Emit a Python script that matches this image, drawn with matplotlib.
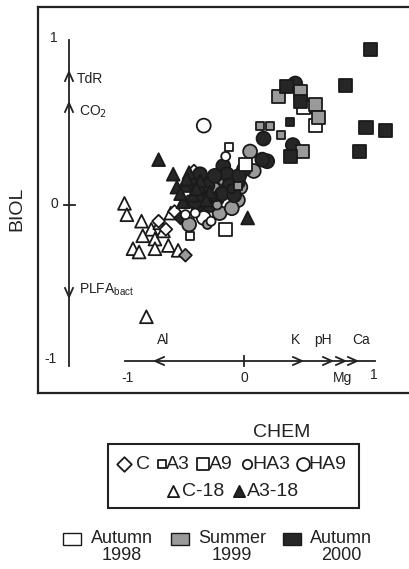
import matplotlib
matplotlib.use("Agg")
import matplotlib.pyplot as plt
from matplotlib.patches import Rectangle

plt.rcParams['font.family'] = ['Liberation Sans', 'DejaVu Sans']

# ---------------- data (biplot scores) ----------------
seasons = ["Autumn\n1998", "Summer\n1999", "Autumn\n2000"]
season_colors = ["#ffffff", "#9a9a9a", "#262626"]

# C (diamonds)
C_x = [-0.41, -0.70, -0.64, -0.48, -0.46, -0.30, -0.38, -0.52, -0.57, -0.24, -0.33]
C_y = [0.21, -0.10, -0.15, -0.31, 0.02, 0.01, -0.02, -0.08, -0.04, 0.06, 0.11]
C_s = [0, 0, 0, 1, 1, 1, 2, 2, 0, 1, 2]

# A3 (small squares)
A3_x = [-0.12, -0.44, 0.38, 0.13, 0.21, 0.30, -0.25, -0.05]
A3_y = [0.36, -0.19, 0.51, 0.49, 0.49, 0.43, 0.05, 0.12]
A3_s = [0, 0, 2, 1, 1, 1, 2, 1]

# A9 (large squares)
A9_x = [0.49, 0.59, 0.01, -0.15, 0.28, 0.46, 0.59, 0.61, 0.48,
        1.04, 0.83, 1.00, 1.16, 0.95, 0.35, 0.46, 0.38]
A9_y = [0.60, 0.49, 0.25, -0.15, 0.67, 0.70, 0.62, 0.54, 0.33,
        0.96, 0.74, 0.48, 0.46, 0.33, 0.73, 0.64, 0.30]
A9_s = [0, 0, 0, 0, 1, 1, 1, 1, 1,
        2, 2, 2, 2, 2, 2, 2, 2]

# HA3 (small circles)
HA3_x = [-0.15, -0.40, -0.30, -0.22, -0.10, -0.35, -0.48, -0.27]
HA3_y = [0.30, -0.05, -0.12, 0.00, 0.10, 0.05, -0.06, -0.10]
HA3_s = [0, 0, 1, 1, 2, 2, 0, 0]

# HA9 (large circles)
HA9_x = [-0.33, -0.33, -0.20, -0.45, 0.05, 0.08, -0.05, -0.10, -0.25, -0.03, -0.16,
         0.42, 0.54, 0.16, 0.40, 0.19, 0.15, -0.17, -0.14, -0.30, -0.38, -0.05, 0.00, -0.22,
         -0.44, -0.36, -0.24, -0.12, -0.04, -0.28, -0.40, -0.18, -0.08]
HA9_y = [0.49, -0.08, -0.05, -0.12, 0.33, 0.21, 0.03, -0.02, 0.10, 0.11, 0.16,
         0.75, 0.61, 0.41, 0.37, 0.27, 0.28, 0.24, 0.19, 0.12, 0.08, 0.14, 0.22, 0.04,
         0.14, 0.19, 0.18, 0.12, 0.18, 0.00, 0.02, 0.07, 0.06]
HA9_s = [0, 0, 1, 1, 1, 1, 1, 1, 1, 1, 1,
         2, 2, 2, 2, 2, 2, 2, 2, 2, 2, 2, 2, 2,
         2, 2, 2, 2, 2, 2, 2, 2, 2]

# C-18 (open triangles)
C18_x = [-0.98, -0.96, -0.84, -0.76, -0.69, -0.83, -0.73, -0.66, -0.91, -0.86,
         -0.73, -0.62, -0.54, -0.80, -0.60]
C18_y = [0.01, -0.06, -0.10, -0.15, -0.11, -0.19, -0.21, -0.16, -0.27, -0.29,
         -0.27, -0.25, -0.28, -0.69, -0.05]

# A3-18 (filled triangles)
A318_x = [-0.70, -0.58, -0.55, 0.03, -0.48, -0.42, -0.36, -0.50, -0.28,
          -0.45, -0.52, -0.39, -0.31, -0.47]
A318_y = [0.28, 0.19, 0.11, -0.08, 0.12, 0.06, 0.15, 0.02, 0.08,
          0.20, 0.07, 0.10, 0.03, 0.16]

# ---------------- layout ----------------
W, H = 409, 569
fig = plt.figure(figsize=(W / 100, H / 100), dpi=100)
L, T, B, R = 38, 7, 393, 416
ax = fig.add_axes([L / W, 1 - B / H, (R - L) / W, (B - T) / H])
X0, SX = 244, 122
Y0, SY = 205, 162


def dx(px):
    return (px - X0) / SX


def dy(py):
    return (Y0 - py) / SY


ax.set_xlim(dx(L), dx(R))
ax.set_ylim(dy(B), dy(T))
ax.set_xticks([])
ax.set_yticks([])
for s in ax.spines.values():
    s.set_linewidth(1.6)
    s.set_color('#222222')

ink = '#222222'
# biplot axes
ax.plot([dx(69), dx(69)], [dy(40), dy(366)], color=ink, lw=1.3)
ax.plot([dx(64), dx(75)], [0, 0], color=ink, lw=1.3)
ax.plot([dx(125), dx(375)], [dy(361), dy(361)], color=ink, lw=1.3)
ax.plot([0, 0], [dy(356), dy(366)], color=ink, lw=1.3)


def chevron(px, py, d):
    if d == 'up':
        xs = [px - 4, px, px + 4]; ys = [py + 9, py, py + 9]
    elif d == 'down':
        xs = [px - 4, px, px + 4]; ys = [py - 9, py, py - 9]
    elif d == 'right':
        xs = [px - 9, px, px - 9]; ys = [py - 4, py, py + 4]
    else:
        xs = [px + 9, px, px + 9]; ys = [py - 4, py, py + 4]
    ax.plot([dx(v) for v in xs], [dy(v) for v in ys], color=ink, lw=1.3)


chevron(69, 72, 'up')
chevron(69, 103, 'up')
chevron(69, 297, 'down')
chevron(155, 361, 'left')
chevron(302, 361, 'right')
chevron(332, 361, 'right')
chevron(345, 361, 'right')
chevron(357, 361, 'right')

tfs = 10
ax.text(dx(77), dy(79), 'TdR', fontsize=tfs, va='center', ha='left', color=ink)
ax.text(dx(79), dy(112), 'CO$_2$', fontsize=tfs, va='center', ha='left', color=ink)
ax.text(dx(79), dy(290), 'PLFA$_{\\mathregular{bact}}$', fontsize=tfs, va='center', ha='left', color=ink)
ax.text(dx(163), dy(340), 'Al', fontsize=tfs, va='center', ha='center', color=ink)
ax.text(dx(295), dy(340), 'K', fontsize=tfs, va='center', ha='center', color=ink)
ax.text(dx(323), dy(340), 'pH', fontsize=tfs, va='center', ha='center', color=ink)
ax.text(dx(361), dy(340), 'Ca', fontsize=tfs, va='center', ha='center', color=ink)
ax.text(dx(343), dy(378), 'Mg', fontsize=tfs, va='center', ha='center', color=ink)
ax.text(dx(128), dy(378), '-1', fontsize=tfs, va='center', ha='center', color=ink)
ax.text(dx(244), dy(378), '0', fontsize=tfs, va='center', ha='center', color=ink)
ax.text(dx(374), dy(375), '1', fontsize=tfs, va='center', ha='center', color=ink)
ax.text(dx(58), dy(38), '1', fontsize=tfs, va='center', ha='right', color=ink)
ax.text(dx(58), dy(204), '0', fontsize=tfs, va='center', ha='right', color=ink)
ax.text(dx(57), dy(359), '-1', fontsize=tfs, va='center', ha='right', color=ink)

edge = '#1a1a1a'
lw = 1.3
S_BIGSQ, S_SMSQ, S_BIGC, S_SMC, S_TRI, S_DIA = 88, 33, 100, 42, 85, 42


def draw(xs, ys, ss, marker, size, z=3):
    ax.scatter(xs, ys, marker=marker, s=size,
               facecolor=[season_colors[k] for k in ss],
               edgecolor=edge, linewidths=lw, zorder=z)


draw(C18_x, C18_y, [0] * len(C18_x), '^', S_TRI)
draw(C_x, C_y, C_s, 'D', S_DIA)
draw(HA9_x, HA9_y, HA9_s, 'o', S_BIGC)
draw(HA3_x, HA3_y, HA3_s, 'o', S_SMC)
draw(A3_x, A3_y, A3_s, 's', S_SMSQ)
draw(A9_x, A9_y, A9_s, 's', S_BIGSQ)
draw(A318_x, A318_y, [2] * len(A318_x), '^', S_TRI)

# ---------------- overlay for labels and legends ----------------
ov = fig.add_axes([0, 0, 1, 1], zorder=5)
ov.set_xlim(0, W)
ov.set_ylim(H, 0)
ov.axis('off')

ov.text(17, 209, 'BIOL', rotation=90, fontsize=14, ha='center', va='center', color=ink)
ov.text(282, 432, 'CHEM', fontsize=14, ha='center', va='center', color=ink)

ov.add_patch(Rectangle((108, 444), 251, 64, fill=False, lw=1.5, edgecolor=ink))
lfs = 14
items = [
    (124, 464, 'D', 55, '#ffffff', 'C', 136),
    (162, 464, 's', 40, '#ffffff', 'A3', 166),
    (203, 464, 's', 75, '#ffffff', 'A9', 209),
    (247, 464, 'o', 45, '#ffffff', 'HA3', 252),
    (303, 464, 'o', 85, '#ffffff', 'HA9', 308),
    (173, 491, '^', 65, '#ffffff', 'C-18', 182),
    (239, 491, '^', 65, '#262626', 'A3-18', 247),
]
for mx, my, mk, sz, fc, lab, tx in items:
    ov.scatter([mx], [my], marker=mk, s=sz, facecolor=fc, edgecolor=edge, linewidths=lw)
    ov.text(tx, my, lab, fontsize=lfs, ha='left', va='center', color=ink)

patch_x = [63, 171, 283]
text_cx = [122, 232, 341]
for px, tc, lab, col in zip(patch_x, text_cx, seasons, season_colors):
    ov.add_patch(Rectangle((px, 533), 18, 12, facecolor=col, edgecolor=edge, lw=1.0))
    ov.text(tc, 547, lab, fontsize=13, ha='center', va='center',
            multialignment='center', color=ink, linespacing=1.05)

fig.savefig('out.png', dpi=100)
